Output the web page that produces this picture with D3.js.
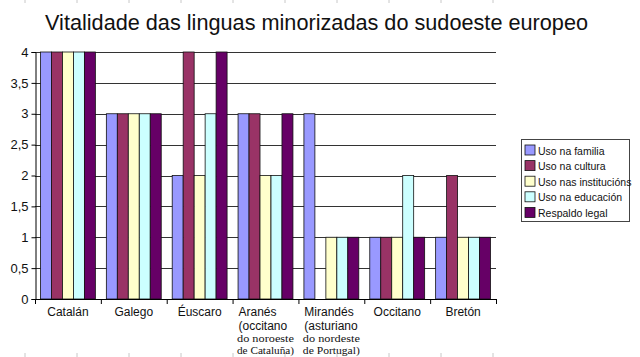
<!DOCTYPE html>
<html><head><meta charset="utf-8">
<script src="https://cdn.jsdelivr.net/npm/d3@7"></script>
<style>body{margin:0;background:#fff}svg{display:block}</style>
</head><body>
<svg id="c" width="640" height="357"></svg>
<script>
const categories = ["Catalán","Galego","Éuscaro","Aranés","Mirandés","Occitano","Bretón"];
const subLines = [[],[],[],["(occitano","do noroeste","de Cataluña)"],["(asturiano","do nordeste","de Portugal)"],[],[]];
const seriesNames = ["Uso na familia","Uso na cultura","Uso nas institucións","Uso na educación","Respaldo legal"];
const seriesColors = ["#9999ff","#993366","#ffffcc","#ccffff","#660066"];
const usoFamilia     = [4,3,2,3,3,1,1];
const usoCultura     = [4,3,4,3,0,1,2];
const usoInstitucions= [4,3,2,2,1,1,1];
const usoEducacion   = [4,3,3,2,1,2,1];
const respaldoLegal  = [4,3,4,3,1,1,1];
const yTicks = [0,0.5,1,1.5,2,2.5,3,3.5,4];
const title = "Vitalidade das linguas minorizadas do sudoeste europeo";

const series = [usoFamilia,usoCultura,usoInstitucions,usoEducacion,respaldoLegal];
const SANS = "Liberation Sans, Arial, sans-serif";
const svg = d3.select("#c");
const L=35,R=496,T=52,B=299;
const x0 = d3.scaleBand().domain(categories).range([L,R]);
const x1 = d3.scaleBand().domain(d3.range(series.length)).range([0,x0.bandwidth()]).paddingOuter(0.5);
const y = d3.scaleLinear().domain([0,4]).range([B,T]);
const fmt = v => String(v).replace(".",",");

// faint ruler ticks (scan artefact)
const rx = d3.scaleLinear().domain([0,9]).range([25,493]);
const rticks = d3.range(10);
svg.append("g").selectAll("line").data(rticks).join("line")
  .attr("x1",d=>rx(d)).attr("x2",d=>rx(d)).attr("y1",0).attr("y2",3)
  .attr("stroke","#c8c8c8").attr("stroke-width",1);
svg.append("g").selectAll("line").data(rticks).join("line")
  .attr("x1",d=>rx(d)).attr("x2",d=>rx(d)).attr("y1",353).attr("y2",357)
  .attr("stroke","#c8c8c8").attr("stroke-width",1);

// title
svg.append("text").attr("x",316.5).attr("y",30).attr("text-anchor","middle")
  .attr("font-family",SANS).attr("font-size",21.5)
  .attr("textLength",543).attr("lengthAdjust","spacingAndGlyphs")
  .attr("fill","#111").text(title);

// gridlines
svg.append("g").selectAll("line").data(yTicks.filter(d=>d>0)).join("line")
  .attr("x1",L).attr("x2",R).attr("y1",d=>Math.round(y(d))+0.5).attr("y2",d=>Math.round(y(d))+0.5)
  .attr("stroke","#333").attr("stroke-width",1);

// bars
const g = svg.append("g").selectAll("g").data(categories).join("g")
  .attr("transform",d=>`translate(${x0(d)},0)`);
g.selectAll("rect").data((c,i)=>series.map((s,k)=>({k,v:s[i]}))).join("rect")
  .attr("x",d=>x1(d.k)).attr("width",x1.bandwidth())
  .attr("y",d=>y(d.v)).attr("height",d=>B-y(d.v))
  .attr("fill",d=>seriesColors[d.k]).attr("stroke","#111").attr("stroke-width",d=>d.v===0?1.5:0.8);

// y axis
const ya = svg.append("g").attr("transform",`translate(${L+0.5},0)`)
  .call(d3.axisLeft(y).tickValues(yTicks).tickFormat(fmt).tickSize(4).tickPadding(3));
ya.select(".domain").attr("stroke","#000");
ya.selectAll(".tick line").attr("stroke","#000");
ya.selectAll("text").attr("font-family",SANS).attr("font-size",13).attr("fill","#111");

// x axis
svg.append("line").attr("x1",L).attr("x2",R).attr("y1",B+0.5).attr("y2",B+0.5).attr("stroke","#000");
const bounds = categories.map(d=>x0(d)).concat([R]);
svg.append("g").selectAll("line").data(bounds).join("line")
  .attr("x1",d=>d+0.5).attr("x2",d=>d+0.5)
  .attr("y1",B).attr("y2",B+5).attr("stroke","#000");
const lab = svg.append("g").selectAll("g").data(categories).join("g")
  .attr("transform",d=>`translate(${x0(d)+x0.bandwidth()/2},0)`);
lab.each(function(d,i){
  const sel=d3.select(this);
  const multi = subLines[i].length>0;
  sel.append("text").attr("x",multi?-27:0).attr("y",316).attr("text-anchor",multi?"start":"middle")
    .attr("font-family",SANS).attr("font-size",12).attr("fill","#111").text(d);
  subLines[i].forEach((t,j)=>{
    if(j===0){
      sel.append("text").attr("x",-27).attr("y",330).attr("text-anchor","start")
        .attr("font-family",SANS).attr("font-size",12).attr("fill","#111").text(t);
    } else {
      sel.append("text").attr("x",0).attr("y",j===1?342:354).attr("text-anchor","middle")
        .attr("font-family","Liberation Serif, serif").attr("font-size",10.5)
        .attr("textLength",57).attr("lengthAdjust","spacingAndGlyphs")
        .attr("fill","#111").text(t);
    }
  });
});

// legend
const lg = svg.append("g");
lg.append("rect").attr("x",521.5).attr("y",139.5).attr("width",108).attr("height",82)
  .attr("fill","#fff").attr("stroke","#444");
const li = lg.selectAll("g").data(seriesNames).join("g")
  .attr("transform",(d,i)=>`translate(525,${145+i*15.6})`);
li.append("rect").attr("width",10).attr("height",10).attr("fill",(d,i)=>seriesColors[i]).attr("stroke","#111").attr("stroke-width",0.8);
li.append("text").attr("x",13).attr("y",9.5).attr("font-family",SANS)
  .attr("font-size",10.5).attr("fill","#111").text(d=>d);
</script>
</body></html>
